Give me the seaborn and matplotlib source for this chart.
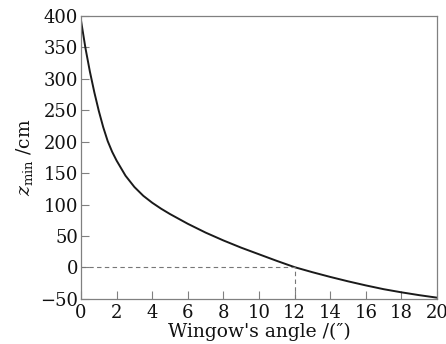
import matplotlib
matplotlib.use("Agg")
import matplotlib.pyplot as plt
import seaborn as sns
import pandas as pd

# curve
angle = [0, 0.25, 0.5, 0.75, 1, 1.25, 1.5, 1.75, 2, 2.5, 3, 3.5, 4, 4.5, 5,
         6, 7, 8, 9, 10, 11, 12, 13, 14, 15, 16, 17, 18, 19, 20]
z_min = [393, 349, 311.5, 278.5, 249, 223, 201, 184, 170, 146, 128, 114,
         103, 93.5, 85, 69.5, 55.5, 43, 31.5, 21, 10.5, 0.5, -7.5, -15, -22,
         -28.5, -34.5, -39.5, -44, -48]
x_ticks = [0, 2, 4, 6, 8, 10, 12, 14, 16, 18, 20]
y_ticks = [-50, 0, 50, 100, 150, 200, 250, 300, 350, 400]
zero_angle = 12

sns.set_style("ticks")
plt.rcParams['font.family'] = ['DejaVu Serif']
plt.rcParams['mathtext.fontset'] = 'dejavuserif'

df = pd.DataFrame({'angle': angle, 'z': z_min})

fig = plt.figure(figsize=(4.46, 3.44), dpi=100)
ax = fig.add_axes([0.1816, 0.131, 0.7984, 0.8225])

sns.lineplot(data=df, x='angle', y='z', color='#1a1a1a', linewidth=1.4, ax=ax)

# dashed guide at the zero crossing
ax.plot([0, zero_angle], [0, 0], color='#777777', linestyle=(0, (4, 3)), linewidth=0.8)
ax.plot([zero_angle, zero_angle], [-50, 0], color='#777777', linestyle=(0, (4, 3)), linewidth=0.8)

ax.set_xlim(0, 20)
ax.set_ylim(-50, 400)
ax.set_xticks(x_ticks)
ax.set_yticks(y_ticks)
ax.tick_params(direction='in', length=6, width=0.8, color='#808080',
               labelsize=13, pad=2, labelcolor='#111111')
ax.tick_params(axis='x', pad=4)
for s in ax.spines.values():
    s.set_color('#808080')
    s.set_linewidth(0.9)

ax.set_xlabel("Wingow's angle /(\u2033)", fontsize=13.5, labelpad=0.5, color='#111111')
ax.set_ylabel(r"$z_{\mathrm{min}}$ /cm", fontsize=13.5, labelpad=4, color='#111111')

fig.savefig("out.png", dpi=100)
